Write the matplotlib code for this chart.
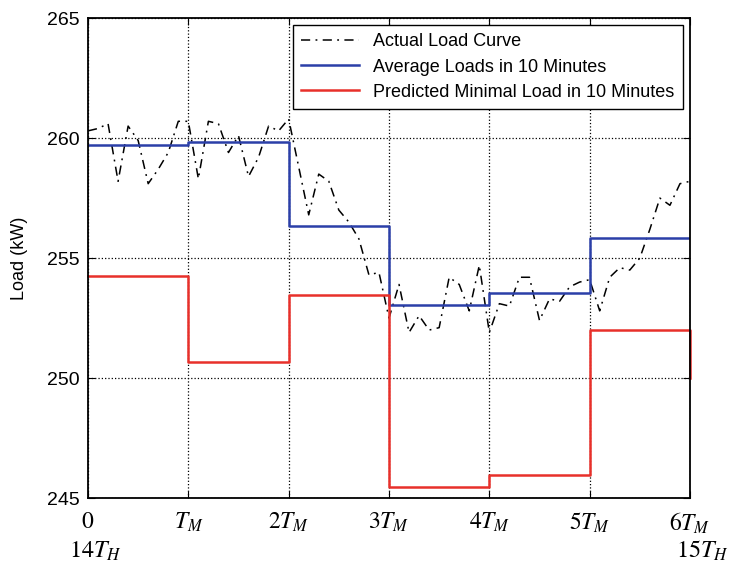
import numpy as np
from matplotlib import pyplot as plt

# actual load, one sample per minute (10 per T_M)
actual_load = [260.3, 260.4, 260.6, 258.2, 260.5, 259.9, 258.1, 258.7, 259.4, 260.7,
               260.7, 258.3, 260.7, 260.6, 259.4, 260.1, 258.4, 259.2, 260.5, 260.3,
               260.8, 258.8, 256.8, 258.5, 258.2, 257.0, 256.5, 255.8, 254.3, 254.4,
               252.5, 253.9, 251.9, 252.6, 252.0, 252.1, 254.2, 253.9, 252.8, 254.7,
               251.9, 253.1, 253.0, 254.2, 254.2, 252.4, 253.3, 253.2, 253.8, 254.0,
               254.1, 252.8, 254.2, 254.6, 254.5, 255.0, 256.2, 257.5, 257.2, 258.1,
               258.2]
avg_load = [259.7, 259.83, 256.33, 253.04, 253.54, 255.83]
min_load = [254.25, 250.67, 253.46, 245.46, 245.96, 252.0, 250.0]

tick_labels = ['$0$', '$T_M$', '$2T_M$', '$3T_M$', '$4T_M$', '$5T_M$', '$6T_M$']

plt.rcParams['font.family'] = ['Liberation Sans', 'DejaVu Sans']
plt.rcParams['mathtext.fontset'] = 'stix'

fig = plt.figure(figsize=(7.29, 5.66), dpi=100)
ax = fig.add_axes([0.1207, 0.1201, 0.8258, 0.8479])

t_act = np.arange(len(actual_load)) / 10.0
ax.plot(t_act, actual_load, color='k', lw=1.1, dashes=(6, 3.5, 1.2, 3.5),
        label='Actual Load Curve')

t_avg = np.arange(len(avg_load) + 1)
ax.step(t_avg, avg_load + [avg_load[-1]], where='post', color='#2b3fa8', lw=1.8,
        label='Average Loads in 10 Minutes')

# step path for the minimal load, last value only shows as the drop at 6T_M
xs = np.repeat(np.arange(len(min_load)), 2)[1:]
ys = np.repeat(min_load, 2)[:-1]
ax.plot(xs, ys, color='#e8302a', lw=1.8, clip_on=False,
        label='Predicted Minimal Load in 10 Minutes')

ax.set_xlim(0, 6)
ax.set_ylim(245, 265)
ax.set_xticks(range(7))
ax.set_xticklabels(tick_labels, fontsize=17)
ax.set_yticks([245, 250, 255, 260, 265])
ax.tick_params(axis='y', labelsize=14, direction='in', length=5, pad=6)
ax.tick_params(axis='x', direction='in', length=5, pad=9)
ax.tick_params(top=True, right=True, direction='in')
ax.grid(True, color='k', linestyle=':', lw=0.9)
for s in ax.spines.values():
    s.set_linewidth(1.3)
    s.set_zorder(5)

ax.set_ylabel('Load (kW)', fontsize=13)
ax.yaxis.set_label_coords(-0.1, 0.5)

fig.text(95 / 729, 1 - 551 / 566, '$14T_H$', fontsize=17.5, ha='center', va='center')
fig.text(729 / 729, 1 - 551 / 566, '$15T_H$', fontsize=17.5, ha='right', va='center')

leg = ax.legend(loc='upper right', fontsize=13, fancybox=False, framealpha=1,
                edgecolor='k', borderaxespad=0.4, handlelength=3.2,
                labelspacing=0.45, borderpad=0.45, handletextpad=0.8)
leg.get_frame().set_linewidth(1.0)

fig.savefig('out.png', dpi=100)
